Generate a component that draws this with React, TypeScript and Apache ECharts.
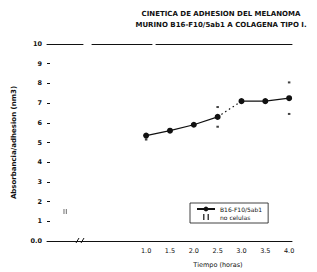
import React, { useEffect, useRef } from "react";
import * as echarts from "echarts";

const timeHours = [1.0, 1.5, 2.0, 2.5, 3.0, 3.5, 4.0];
const adhesion = [5.35, 5.6, 5.9, 6.3, 7.1, 7.1, 7.25];
const errorMarks = [
  [1.0, 5.15],
  [2.5, 6.8],
  [2.5, 5.8],
  [4.0, 8.05],
  [4.0, 6.45],
];
const controlTime = [-0.7];
const controlValue = [1.5];
const xTickLabels = [1.0, 1.5, 2.0, 2.5, 3.0, 3.5, 4.0];
const yTicks = [0, 1, 2, 3, 4, 5, 6, 7, 8, 9, 10];

const seriesName = "B16-F10/5ab1";
const controlName = "no celulas";
const ink = "#111";
const font = "DejaVu Sans";

export default function App() {
  const ref = useRef<HTMLDivElement>(null);
  useEffect(() => {
    document.body.style.margin = "0";
    if (!ref.current) return;
    const chart = echarts.init(ref.current, undefined, { renderer: "svg" });
    const pts = timeHours.map((t, i) => [t, adhesion[i]]);
    const solid1 = pts.slice(0, 4);
    const dotted = pts.slice(3, 5);
    const solid2 = pts.slice(4);
    const lineCommon = {
      type: "line",
      name: seriesName,
      symbol: "circle",
      symbolSize: 6,
      itemStyle: { color: ink },
      lineStyle: { color: ink, width: 1.2 },
      silent: true,
    };
    chart.setOption({
      animation: false,
      backgroundColor: "#fff",
      textStyle: { fontFamily: font },
      title: [
        {
          text: "CINETICA DE ADHESION DEL MELANOMA\nMURINO B16-F10/5ab1 A COLAGENA TIPO I.",
          left: 216,
          top: 3,
          textAlign: "center",
          textStyle: {
            fontFamily: font,
            fontSize: 7,
            fontWeight: "bold",
            color: ink,
            lineHeight: 11,
          },
        },
        {
          text: "Tiempo (horas)",
          left: 213,
          top: 256,
          textAlign: "center",
          textStyle: { fontFamily: font, fontSize: 6.5, fontWeight: "normal", color: ink },
        },
      ],
      grid: { left: 47, right: 25, top: 44, bottom: 31 },
      legend: {
        data: [seriesName, controlName],
        orient: "vertical",
        left: 190,
        top: 203,
        width: 103,
        itemWidth: 18,
        itemHeight: 6,
        itemGap: 2,
        padding: [3, 6, 3, 6],
        borderColor: ink,
        borderWidth: 0.8,
        textStyle: { fontFamily: font, fontSize: 6, color: ink },
      },
      xAxis: [
        {
          type: "value",
          min: -1.08,
          max: 4.06,
          splitLine: { show: false },
          axisTick: { show: false },
          axisLine: { show: true, onZero: false, lineStyle: { color: ink, width: 1 } },
          axisLabel: {
            customValues: xTickLabels,
            formatter: (v: number) => v.toFixed(1),
            fontSize: 6.5,
            color: ink,
            margin: 6,
          },
        },
        {
          type: "value",
          position: "top",
          min: -1.08,
          max: 4.06,
          splitLine: { show: false },
          axisTick: { show: false },
          axisLabel: { show: false },
          axisLine: { show: true, onZero: false, lineStyle: { color: ink, width: 1, type: [36, 9, 60, 4, 140, 0] } },
        },
      ],
      yAxis: {
        type: "value",
        min: 0,
        max: 10,
        interval: 1,
        name: "Absorbancia/adhesion (nm3)",
        nameLocation: "middle",
        nameGap: 30,
        nameTextStyle: { fontFamily: font, fontSize: 7, fontWeight: "bold", color: ink },
        splitLine: { show: false },
        axisLine: { show: false, onZero: false },
        axisTick: { show: true, inside: true, length: 3, lineStyle: { color: ink } },
        axisLabel: {
          customValues: yTicks,
          formatter: (v: number) => (v === 0 ? "0.0" : String(v)),
          fontSize: 6.5,
          fontWeight: "bold",
          color: ink,
          margin: 5,
        },
      },
      series: [
        { ...lineCommon, data: solid1 },
        { ...lineCommon, data: dotted, showSymbol: false, symbol: "none", lineStyle: { color: ink, width: 1.2, type: [1.5, 3] } },
        { ...lineCommon, data: solid2 },
        {
          type: "scatter",
          name: "error",
          data: errorMarks,
          symbol: "rect",
          symbolSize: [2.5, 2],
          itemStyle: { color: ink },
          silent: true,
        },
        {
          type: "scatter",
          name: controlName,
          data: controlTime.map((t, i) => [t, controlValue[i]]),
          symbol: "path://M0,0 L1,0 L1,4 L0,4 Z M3,0 L4,0 L4,4 L3,4 Z",
          symbolSize: [3, 5],
          itemStyle: { color: ink },
          silent: true,
        },
      ],
      graphic: [
        { type: "rect", shape: { x: 75, y: 238, width: 10, height: 5 }, style: { fill: "#fff" } },
        { type: "line", shape: { x1: 76, y1: 243, x2: 79, y2: 238 }, style: { stroke: ink, lineWidth: 1 } },
        { type: "line", shape: { x1: 81, y1: 243, x2: 84, y2: 238 }, style: { stroke: ink, lineWidth: 1 } },
      ],
    });
    return () => chart.dispose();
  }, []);
  return <div ref={ref} style={{ width: 317, height: 272 }} />;
}
